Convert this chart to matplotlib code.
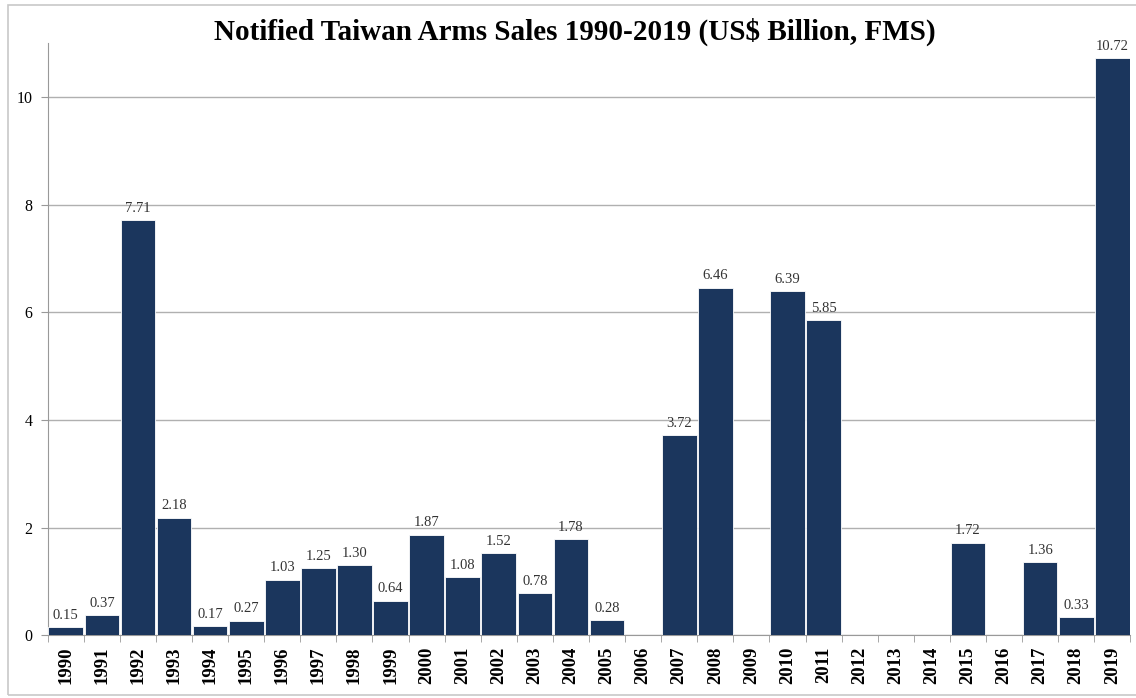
import matplotlib.pyplot as plt
from matplotlib.patches import Rectangle

years = [str(y) for y in range(1990, 2020)]
sales = [0.15, 0.37, 7.71, 2.18, 0.17, 0.27, 1.03, 1.25, 1.30, 0.64,
         1.87, 1.08, 1.52, 0.78, 1.78, 0.28, 0, 3.72, 6.46, 0,
         6.39, 5.85, 0, 0, 0, 1.72, 0, 1.36, 0.33, 10.72]
y_ticks = [0, 2, 4, 6, 8, 10]

bar_color = "#1b365d"
serif = ["Liberation Serif", "DejaVu Serif"]

fig = plt.figure(figsize=(11.36, 6.98), dpi=100)
ax = fig.add_axes([0.042, 0.090, 0.953, 0.848])

x = list(range(len(years)))
ax.bar(x, sales, width=0.96, color=bar_color, edgecolor="white", linewidth=0.6, zorder=3)

for xi, v in zip(x, sales):
    if v > 0:
        ax.text(xi, v + 0.1, f"{v:.2f}", ha="center", va="bottom",
                fontsize=10.5, color="#333333", family=serif, zorder=4)

ax.set_xlim(-0.5, len(years) - 0.5)
ax.set_ylim(0, 11)
ax.set_yticks(y_ticks)
ax.set_yticklabels([str(t) for t in y_ticks], family=serif, fontsize=11.5)
ax.set_xticks(x)
ax.set_xticklabels(years, rotation=90, family=serif, fontsize=13.5, fontweight="bold")
ax.tick_params(axis="x", length=0, pad=8)
ax.set_xticks([i - 0.5 for i in range(len(years) + 1)], minor=True)
ax.tick_params(axis="x", which="minor", length=5, color="#999999")
ax.tick_params(axis="y", length=5, color="#999999", pad=6)

ax.grid(axis="y", color="#b0b0b0", linewidth=1.0, zorder=0)
for side in ["top", "right"]:
    ax.spines[side].set_visible(False)
ax.spines["left"].set_color("#999999")
ax.spines["bottom"].set_color("#999999")

fig.text(0.506, 0.955, "Notified Taiwan Arms Sales 1990-2019 (US$ Billion, FMS)",
         ha="center", va="center", fontsize=21, fontweight="bold", family=serif)

fig.patches.append(Rectangle((0.007, 0.004), 1.2, 0.989, transform=fig.transFigure,
                             fill=False, edgecolor="#c8c8c8", linewidth=1.2))

fig.savefig("out.png", dpi=100)
